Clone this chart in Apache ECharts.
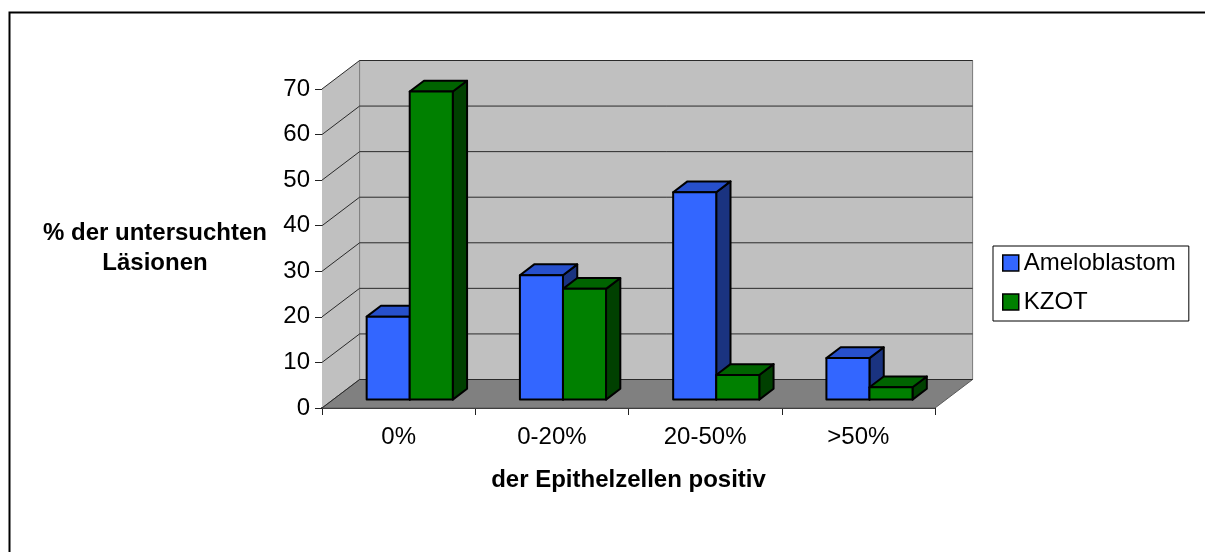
<!DOCTYPE html>
<html>
<head>
<meta charset="utf-8">
<script src="https://cdn.jsdelivr.net/npm/echarts@6/dist/echarts.min.js"></script>
<style>
  html, body { margin: 0; padding: 0; background: #fff; }
  #chart { width: 1205px; height: 552px; }
</style>
</head>
<body>
<div id="chart"></div>
<script>
// Share of examined lesions by fraction of positive epithelial cells
const categories = ['0%', '0-20%', '20-50%', '>50%'];
const ameloblastom = [18.2, 27.3, 45.5, 9.1];
const kzot = [67.6, 24.3, 5.4, 2.7];
const yTicks = { min: 0, max: 70, interval: 10 };

const FONT = '"Liberation Sans", Arial, sans-serif';

// Oblique 3D projection: full depth of the floor and walls in pixels
const DEPTH = [37.6, -28.5];
const BAR_FRONT = 0.295;   // depth fraction where the bar front faces sit
const BAR_DEPTH = 0.38;    // depth fraction taken by a bar
const BAR_FRAC = 0.281;    // bar width relative to one category band

const palette = {
  wall: '#C0C0C0',
  floor: '#808080',
  grid: '#2a2a2a',
  blue: { front: '#3366FF', top: '#2750CC', side: '#1A3380' },
  green: { front: '#008000', top: '#006400', side: '#004000' }
};

function renderWalls(params, api) {
  const cs = params.coordSys;
  const x0 = cs.x, x1 = cs.x + cs.width;
  const yBase = api.coord([0, yTicks.min])[1];
  const yTop = api.coord([0, yTicks.max])[1];
  const dx = DEPTH[0], dy = DEPTH[1];
  const children = [];
  // side wall
  children.push({ type: 'polygon', shape: { points: [[x0, yBase], [x0 + dx, yBase + dy], [x0 + dx, yTop + dy], [x0, yTop]] },
    style: { fill: palette.wall, stroke: null } });
  // back wall
  children.push({ type: 'rect', shape: { x: x0 + dx, y: yTop + dy, width: x1 - x0, height: yBase - yTop },
    style: { fill: palette.wall, stroke: '#7a7a7a', lineWidth: 1 } });
  // floor
  children.push({ type: 'polygon', shape: { points: [[x0, yBase], [x1, yBase], [x1 + dx, yBase + dy], [x0 + dx, yBase + dy]] },
    style: { fill: palette.floor, stroke: '#5a5a5a', lineWidth: 1 } });
  // gridlines along side wall and back wall
  for (let v = yTicks.min; v <= yTicks.max; v += yTicks.interval) {
    const y = api.coord([0, v])[1];
    children.push({ type: 'polyline', shape: { points: [[x0, y], [x0 + dx, y + dy], [x1 + dx, y + dy]] },
      style: { stroke: palette.grid, lineWidth: 1, fill: null } });
  }
  return { type: 'group', children: children };
}

function makeBarRenderer(colors, slot) {
  return function (params, api) {
    const i = api.value(0), v = api.value(1);
    const base = api.coord([i, 0]);
    const top = api.coord([i, v]);
    const band = api.size([1, 0])[0];
    const w = band * BAR_FRAC;
    const fx = DEPTH[0] * BAR_FRONT, fy = DEPTH[1] * BAR_FRONT;
    const bx = DEPTH[0] * BAR_DEPTH, by = DEPTH[1] * BAR_DEPTH;
    const left = base[0] + slot * w + fx;
    const right = left + w;
    const ty = top[1] + fy, byy = base[1] + fy;
    const edge = { stroke: '#000', lineWidth: 2, lineJoin: 'round' };
    return {
      type: 'group',
      children: [
        { type: 'polygon', shape: { points: [[right, ty], [right + bx, ty + by], [right + bx, byy + by], [right, byy]] },
          style: Object.assign({ fill: colors.side }, edge) },
        { type: 'polygon', shape: { points: [[left, ty], [right, ty], [right + bx, ty + by], [left + bx, ty + by]] },
          style: Object.assign({ fill: colors.top }, edge) },
        { type: 'rect', shape: { x: left, y: ty, width: w, height: byy - ty },
          style: Object.assign({ fill: colors.front }, edge) }
      ]
    };
  };
}

const chart = echarts.init(document.getElementById('chart'), null, { renderer: 'canvas' });

chart.setOption({
  backgroundColor: '#fff',
  animation: false,
  textStyle: { fontFamily: FONT },
  grid: { left: 322, right: 270, top: 89, bottom: 144, containLabel: false },
  graphic: [
    { type: 'rect', left: 7, top: 10, shape: { x: 0, y: 0, width: 1300, height: 700 },
      style: { fill: null, stroke: '#000', lineWidth: 2 }, silent: true, z: 0 },
    { type: 'text', x: 155, y: 248,
      style: { text: '% der untersuchten\nLäsionen', font: 'bold 24px ' + FONT, fill: '#000',
        textAlign: 'center', textVerticalAlign: 'middle', lineHeight: 30 } }
  ],
  legend: {
    data: ['Ameloblastom', 'KZOT'],
    orient: 'vertical',
    left: 993, top: 246,
    padding: [4, 13, 6, 9],
    itemGap: 13,
    itemWidth: 16, itemHeight: 16,
    icon: 'rect',
    borderColor: '#000', borderWidth: 1,
    backgroundColor: '#fff',
    itemStyle: { borderColor: '#000', borderWidth: 1.5 },
    textStyle: { fontSize: 24, color: '#000', fontFamily: FONT, lineHeight: 26, padding: [0, 0, 0, 0] }
  },
  xAxis: {
    type: 'category',
    data: categories,
    boundaryGap: true,
    name: 'der Epithelzellen positiv',
    nameLocation: 'middle',
    nameGap: 60,
    nameTextStyle: { fontSize: 24, fontWeight: 'bold', color: '#000', fontFamily: FONT },
    axisLine: { show: true, lineStyle: { color: '#222', width: 2 } },
    axisTick: { show: true, alignWithLabel: false, length: 7, lineStyle: { color: '#222', width: 1 } },
    axisLabel: { fontSize: 24, color: '#000', margin: 17, fontFamily: FONT },
    splitLine: { show: false }
  },
  yAxis: {
    type: 'value',
    min: yTicks.min, max: yTicks.max, interval: yTicks.interval,
    axisLine: { show: true, lineStyle: { color: '#222', width: 1 } },
    axisTick: { show: true, length: 7, lineStyle: { color: '#222', width: 1 } },
    axisLabel: { fontSize: 24, color: '#000', margin: 12, fontFamily: FONT },
    splitLine: { show: false }
  },
  series: [
    { type: 'custom', name: 'walls', renderItem: renderWalls, data: [[0, 0]], z: 1, silent: true, clip: false },
    { type: 'custom', name: 'Ameloblastom', itemStyle: { color: palette.blue.front },
      renderItem: makeBarRenderer(palette.blue, -1), z: 3, clip: false,
      data: ameloblastom.map((v, i) => [i, v]) },
    { type: 'custom', name: 'KZOT', itemStyle: { color: palette.green.front },
      renderItem: makeBarRenderer(palette.green, 0), z: 4, clip: false,
      data: kzot.map((v, i) => [i, v]) }
  ]
});
</script>
</body>
</html>
